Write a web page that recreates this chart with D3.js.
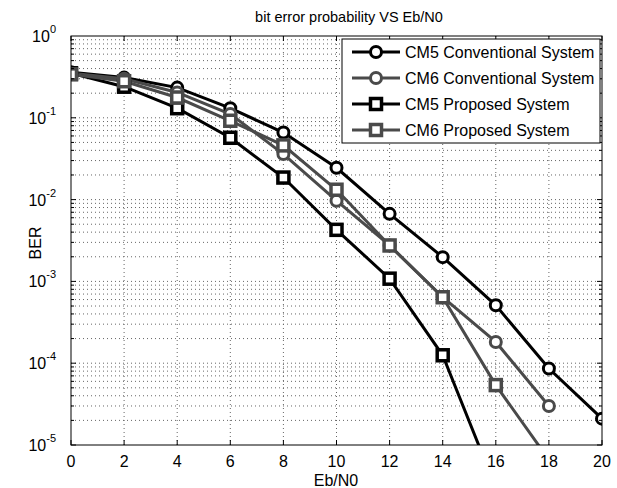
<!DOCTYPE html>
<html>
<head>
<meta charset="utf-8">
<script src="https://cdn.jsdelivr.net/npm/d3@7"></script>
<style>
  body { margin: 0; background: #fff; }
  svg { font-family: "Liberation Sans", Arial, sans-serif; }
</style>
</head>
<body>
<svg id="chart" width="617" height="488"></svg>
<script>
// valores
const ebn0 = [0, 2, 4, 6, 8, 10, 12, 14, 16, 18, 20];
const cm5Conv = [0.36, 0.31, 0.234, 0.131, 0.066, 0.0245, 0.0067, 0.00198, 0.00051, 0.000086, 0.000021];
const cm6Conv = [0.35, 0.30, 0.204, 0.111, 0.036, 0.0097, 0.00275, 0.00064, 0.000182, 0.00003];
const cm5Prop = [0.35, 0.24, 0.131, 0.057, 0.0186, 0.00427, 0.00108, 0.000125, 0.000003];
const cm6Prop = [0.34, 0.28, 0.177, 0.092, 0.046, 0.0132, 0.00275, 0.00064, 0.000054, 0.0000066];
const seriesNames = ["CM5 Conventional System", "CM6 Conventional System", "CM5 Proposed System", "CM6 Proposed System"];
const xTicks = [0, 2, 4, 6, 8, 10, 12, 14, 16, 18, 20];
const yExps = [0, -1, -2, -3, -4, -5];

const svg = d3.select("#chart");
const pLeft = 71, pRight = 602, pTop = 36, pBottom = 445;

const x = d3.scaleLinear().domain([0, 20]).range([pLeft, pRight]);
const y = d3.scaleLog().domain([1e-5, 1]).range([pBottom, pTop]);

// definição das séries
const series = [
  { name: seriesNames[0], values: cm5Conv, color: "#000", marker: "circle" },
  { name: seriesNames[1], values: cm6Conv, color: "#4a4a4a", marker: "circle" },
  { name: seriesNames[2], values: cm5Prop, color: "#000", marker: "square" },
  { name: seriesNames[3], values: cm6Prop, color: "#4a4a4a", marker: "square" }
];

svg.append("defs").append("clipPath").attr("id", "clip")
  .append("rect").attr("x", pLeft).attr("y", pTop)
  .attr("width", pRight - pLeft).attr("height", pBottom - pTop);

// grade
const grid = svg.append("g").attr("stroke", "#666").attr("stroke-width", 1)
  .attr("stroke-dasharray", "1,3");
xTicks.slice(1, -1).forEach(t => {
  grid.append("line").attr("x1", x(t)).attr("x2", x(t))
    .attr("y1", pTop).attr("y2", pBottom);
});
const minorVals = [];
for (let e = -5; e < 0; e++) {
  for (let m = 1; m < 10; m++) minorVals.push(m * Math.pow(10, e));
}
minorVals.filter(v => v > 1e-5).forEach(v => {
  grid.append("line").attr("x1", pLeft).attr("x2", pRight)
    .attr("y1", y(v)).attr("y2", y(v));
});

// linhas e marcadores
const plot = svg.append("g").attr("clip-path", "url(#clip)");
const line = d3.line().x((d, i) => x(ebn0[i])).y(d => y(d));

series.forEach(s => {
  plot.append("path").datum(s.values)
    .attr("fill", "none").attr("stroke", s.color)
    .attr("stroke-width", 3).attr("d", line);
});

function drawMarker(g, cx, cy, s) {
  if (s.marker === "circle") {
    g.append("circle").attr("cx", cx).attr("cy", cy).attr("r", 5.5)
      .attr("fill", "#fff").attr("stroke", s.color).attr("stroke-width", 3);
  } else {
    g.append("rect").attr("x", cx - 5.5).attr("y", cy - 5.5)
      .attr("width", 11).attr("height", 11)
      .attr("fill", "#fff").attr("stroke", s.color).attr("stroke-width", 3.5);
  }
}

series.forEach(s => {
  s.values.forEach((v, i) => {
    if (v >= 1e-5) drawMarker(plot, x(ebn0[i]), y(v), s);
  });
});

// moldura e ticks
const axes = svg.append("g").attr("stroke", "#000").attr("stroke-width", 1);
axes.append("rect").attr("x", pLeft).attr("y", pTop)
  .attr("width", pRight - pLeft).attr("height", pBottom - pTop).attr("fill", "none");
xTicks.forEach(t => {
  axes.append("line").attr("x1", x(t)).attr("x2", x(t)).attr("y1", pBottom).attr("y2", pBottom - 5);
  axes.append("line").attr("x1", x(t)).attr("x2", x(t)).attr("y1", pTop).attr("y2", pTop + 5);
});
minorVals.forEach(v => {
  const len = (Math.abs(Math.log10(v) % 1) < 1e-9) ? 5 : 3;
  axes.append("line").attr("x1", pLeft).attr("x2", pLeft + len).attr("y1", y(v)).attr("y2", y(v));
  axes.append("line").attr("x1", pRight).attr("x2", pRight - len).attr("y1", y(v)).attr("y2", y(v));
});

// rótulos do eixo x
svg.append("g").selectAll("text").data(xTicks).join("text")
  .attr("x", d => x(d)).attr("y", pBottom + 22)
  .attr("text-anchor", "middle").attr("font-size", 16).text(d => d);

// rótulos do eixo y
const yl = svg.append("g").selectAll("text").data(yExps).join("text")
  .attr("x", pLeft - 15).attr("y", d => y(Math.pow(10, d)) + 6)
  .attr("text-anchor", "end").attr("font-size", 16);
yl.append("tspan").text("10");
yl.append("tspan").attr("dy", -9).attr("font-size", 11).text(d => d);

// títulos
svg.append("text").attr("x", 349).attr("y", 22).attr("text-anchor", "middle")
  .attr("font-size", 14.5).text("bit error probability VS Eb/N0");
svg.append("text").attr("x", 336).attr("y", 486).attr("text-anchor", "middle")
  .attr("font-size", 16).text("Eb/N0");
svg.append("text").attr("transform", "translate(41,243) rotate(-90)")
  .attr("text-anchor", "middle").attr("font-size", 16).text("BER");

// legenda
const lg = svg.append("g");
lg.append("rect").attr("x", 342).attr("y", 39).attr("width", 258).attr("height", 104)
  .attr("fill", "#fff").attr("stroke", "#000").attr("stroke-width", 1);
series.forEach((s, i) => {
  const ly = 52 + i * 26;
  lg.append("line").attr("x1", 352).attr("x2", 400).attr("y1", ly).attr("y2", ly)
    .attr("stroke", s.color).attr("stroke-width", 3);
  drawMarker(lg, 376, ly, s);
  lg.append("text").attr("x", 405).attr("y", ly + 6).attr("font-size", 16).text(s.name);
});
</script>
</body>
</html>
